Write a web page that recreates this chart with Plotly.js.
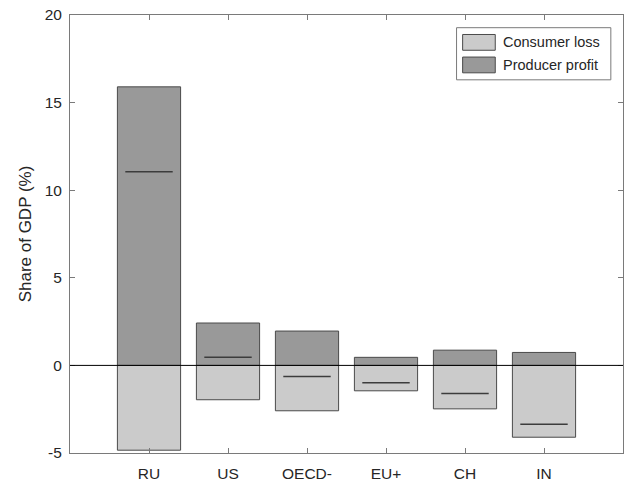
<!DOCTYPE html>
<html>
<head>
<meta charset="utf-8">
<script src="https://cdn.plot.ly/plotly-3.0.1.min.js"></script>
<style>
  html, body { margin: 0; padding: 0; background: #fff; }
  #chart { width: 631px; height: 481px; }
</style>
</head>
<body>
<div id="chart"></div>
<script>
// Regions and their welfare effects, as a share of GDP (%)
var regions = ['RU', 'US', 'OECD-', 'EU+', 'CH', 'IN'];
var consumerLoss = [-4.84, -1.96, -2.59, -1.45, -2.48, -4.10];
var producerProfit = [15.90, 2.42, 1.96, 0.46, 0.87, 0.74];
var netEffect = [11.06, 0.46, -0.63, -0.99, -1.61, -3.36];
var yTickVals = [-5, 0, 5, 10, 15, 20];
var yTickText = ['-5', '0', '5', '10', '15', '20'];

var seriesNames = ['Consumer loss', 'Producer profit'];
var seriesColors = ['#cbcbcb', '#999999'];

var FONT = 'Liberation Sans, Arial, Helvetica, sans-serif';
var TEXT = '#262626';
var AXIS = '#7a7a7a';
var EDGE = '#4a4a4a';

var xPos = regions.map(function (_, i) { return i + 1; });
var barWidth = 0.8;
var netHalf = 0.3;

// Net effect: a short horizontal segment centred in each bar
var netX = [], netY = [];
xPos.forEach(function (x, i) {
  netX.push(x - netHalf, x + netHalf, null);
  netY.push(netEffect[i], netEffect[i], null);
});

var traces = [
  {
    type: 'bar', name: seriesNames[0], x: xPos, y: consumerLoss, width: barWidth,
    marker: { color: seriesColors[0], line: { color: EDGE, width: 1 } },
    showlegend: false, hoverinfo: 'skip'
  },
  {
    type: 'bar', name: seriesNames[1], x: xPos, y: producerProfit, width: barWidth,
    marker: { color: seriesColors[1], line: { color: EDGE, width: 1 } },
    showlegend: false, hoverinfo: 'skip'
  },
  {
    type: 'scatter', mode: 'lines', x: netX, y: netY,
    line: { color: '#3c3c3c', width: 1.5 },
    showlegend: false, hoverinfo: 'skip'
  }
];

// Legend box drawn in paper space with wide swatches
var lg = { x0: 0.699, x1: 0.978, y0: 0.852, y1: 0.971, sx0: 0.710, sx1: 0.769, tx: 0.779,
           rows: [{ yc: 0.9375, h: 0.031 }, { yc: 0.886, h: 0.031 }] };

var shapes = [
  {
    type: 'line', xref: 'paper', yref: 'y', x0: 0, x1: 1, y0: 0, y1: 0,
    line: { color: '#000', width: 1 }, layer: 'above'
  },
  {
    type: 'rect', xref: 'paper', yref: 'paper', x0: lg.x0, x1: lg.x1, y0: lg.y0, y1: lg.y1,
    fillcolor: '#fff', line: { color: AXIS, width: 1 }, layer: 'above'
  }
];
var annotations = [];
lg.rows.forEach(function (r, i) {
  shapes.push({
    type: 'rect', xref: 'paper', yref: 'paper', x0: lg.sx0, x1: lg.sx1,
    y0: r.yc - r.h / 2 - 0.0025, y1: r.yc + r.h / 2 + 0.0025,
    fillcolor: seriesColors[i], line: { color: EDGE, width: 1 }, layer: 'above'
  });
  annotations.push({
    xref: 'paper', yref: 'paper', x: lg.tx, y: r.yc, xanchor: 'left', yanchor: 'middle',
    text: seriesNames[i], showarrow: false, font: { family: FONT, size: 14.5, color: TEXT }
  });
});

var layout = {
  width: 631, height: 481,
  margin: { l: 70, r: 8, t: 15, b: 28 },
  paper_bgcolor: '#fff', plot_bgcolor: '#fff',
  barmode: 'relative',
  showlegend: false,
  font: { family: FONT, size: 15, color: TEXT },
  xaxis: {
    range: [0, 7], tickvals: xPos, ticktext: regions,
    showgrid: false, zeroline: false,
    showline: true, linecolor: AXIS, linewidth: 1, mirror: 'allticks',
    ticks: 'inside', ticklen: 5, tickcolor: AXIS, tickwidth: 1,
    tickfont: { family: FONT, size: 15.5, color: TEXT },
    ticklabelstandoff: 6
  },
  yaxis: {
    range: [-5, 20], tickvals: yTickVals, ticktext: yTickText,
    showgrid: false, zeroline: false,
    showline: true, linecolor: AXIS, linewidth: 1, mirror: 'allticks',
    ticks: 'inside', ticklen: 5, tickcolor: AXIS, tickwidth: 1,
    tickfont: { family: FONT, size: 15.5, color: TEXT },
    ticklabelstandoff: 4,
    title: { text: 'Share of GDP (%)', font: { family: FONT, size: 17, color: TEXT }, standoff: 8 }
  },
  shapes: shapes,
  annotations: annotations
};

Plotly.newPlot('chart', traces, layout, { staticPlot: true, displayModeBar: false });
</script>
</body>
</html>
